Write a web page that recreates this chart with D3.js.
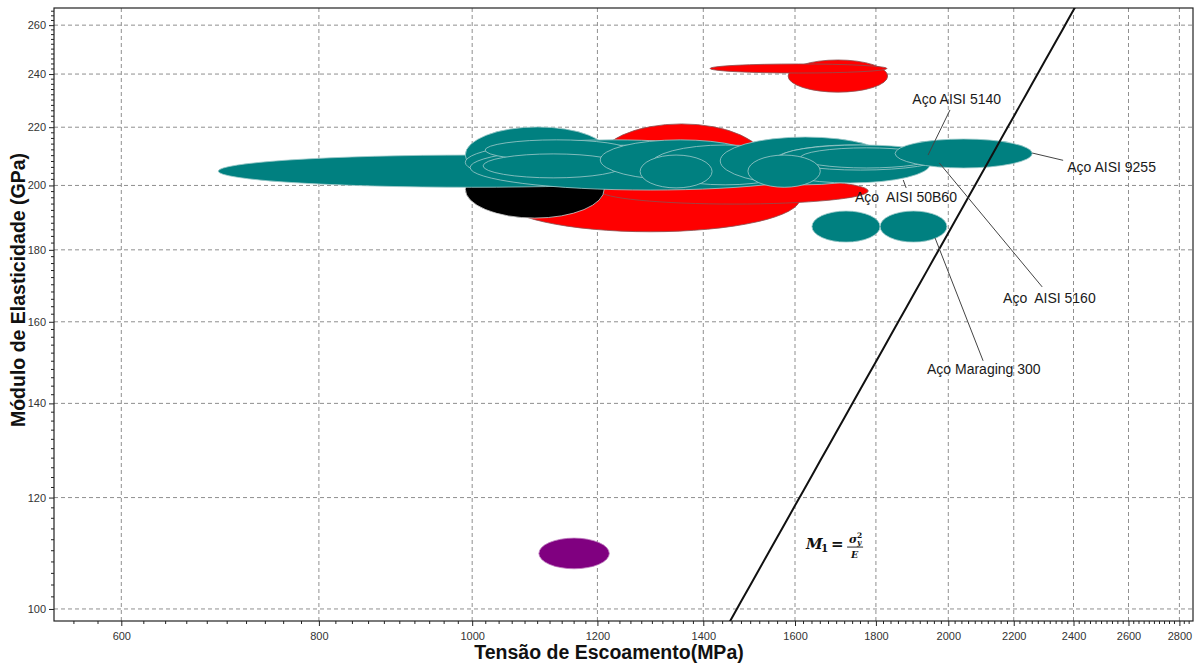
<!DOCTYPE html>
<html>
<head>
<meta charset="utf-8">
<script src="https://cdn.jsdelivr.net/npm/d3@7"></script>
<style>
  body { margin: 0; background: #fff; }
  svg { display: block; font-family: Arial, "Liberation Sans", sans-serif; }
</style>
</head>
<body>
<svg id="chart"></svg>
<script>
// Tick values on both log axes
const xMajorTicks = [600, 800, 1000, 1200, 1400, 1600, 1800, 2000, 2200, 2400, 2600, 2800];
const yMajorTicks = [100, 120, 140, 160, 180, 200, 220, 240, 260];

// Material ranges: [sigma min, sigma max, E min, E max] (MPa, GPa)
const redRanges = [
  [1042, 1612, 185.4, 206.8],
  [1201, 1532, 195.3, 221.2],
  [1205, 1780, 194.0, 202.5],
  [1584, 1831, 233.0, 245.6],
  [1414, 1829, 240.4, 244.0],
];
const blackRanges = [[990, 1212, 189.6, 208.4]];
const tealRanges = [
  [691, 1445, 199.4, 210.2],
  [990, 1222, 200.8, 220.1],
  [990, 1521, 200.2, 215.5],
  [997, 1684, 198.5, 213.7],
  [1019, 1255, 208.4, 215.5],
  [1016, 1246, 202.5, 210.6],
  [1205, 1521, 201.8, 215.5],
  [1296, 1612, 200.2, 213.7],
  [1435, 1838, 200.2, 216.5],
  [1543, 1948, 200.8, 213.7],
  [1565, 1979, 205.1, 213.7],
  [1612, 1956, 205.8, 212.7],
  [1851, 2260, 205.8, 215.8],
  [1277, 1418, 199.2, 210.2],
  [1494, 1660, 199.4, 210.2],
  [1640, 1811, 182.3, 191.8],
  [1811, 1996, 182.3, 191.8],
];
const purpleRanges = [[1102, 1221, 106.8, 112.3]];

// Callouts: label text, label anchor (sigma, E), leader from / to (sigma, E)
const calloutNames = ["Aço AISI 5140", "Aço AISI 9255", "Aço  AISI 50B60", "Aço  AISI 5160", "Aço Maraging 300"];
const calloutText = [[1898, 228.5], [2378, 204.5], [1746, 194.7], [2166, 165.0], [1939, 146.9]];
const calloutFrom = [[2005, 226.3], [2364, 208.4], [1881, 199.2], [2293, 169.4], [2104, 150.1]];
const calloutTo = [[1942, 210.2], [2260, 210.9], [1873, 201.8], [1974, 207.5], [1962, 183.5]];

// Index line M1 = sigma^2 / E  (E = sigma^2 / C)
const m1Constant = 21615;
const m1LabelAt = [1626, 110.3];

const WIDTH = 1198;
const HEIGHT = 664;
const plot = { left: 54, top: 8, right: 1193, bottom: 621 };

const svg = d3.select("#chart").attr("width", WIDTH).attr("height", HEIGHT);

var x = d3.scaleLog().domain([544, 2856]).range([plot.left, plot.right]);
var y = d3.scaleLog().domain([98.05, 267.4]).range([plot.bottom, plot.top]);

/**
 * Builds every minor tick between two bounds with a fixed step.
 */
function minorTicks(lo, hi, step, majors) {
  let out = [];
  for (let v = lo; v <= hi; v += step) {
    if (!majors.includes(v)) out.push(v);
  }
  return out;
}

/**
 * Draws the dashed grid, the frame and both axes.
 */
function drawAxes() {
  const grid = svg.append("g").attr("class", "grid");
  grid.selectAll("line.vx")
    .data(xMajorTicks)
    .enter()
    .append("line")
    .attr("x1", (d) => x(d)).attr("x2", (d) => x(d))
    .attr("y1", plot.top).attr("y2", plot.bottom)
    .attr("stroke", "#8f8f8f").attr("stroke-dasharray", "4,3");
  grid.selectAll("line.hy")
    .data(yMajorTicks)
    .enter()
    .append("line")
    .attr("y1", (d) => y(d)).attr("y2", (d) => y(d))
    .attr("x1", plot.left).attr("x2", plot.right)
    .attr("stroke", "#8f8f8f").attr("stroke-dasharray", "4,3");

  var xAxis = d3.axisBottom(x).tickValues(xMajorTicks).tickFormat(d3.format("d")).tickSize(5).tickPadding(6);
  var yAxis = d3.axisLeft(y).tickValues(yMajorTicks).tickFormat(d3.format("d")).tickSize(5).tickPadding(3);

  const gx = svg.append("g").attr("transform", `translate(0,${plot.bottom})`).call(xAxis);
  const gy = svg.append("g").attr("transform", `translate(${plot.left},0)`).call(yAxis);
  [gx, gy].forEach((g) => {
    g.select(".domain").remove();
    g.selectAll("text").attr("font-size", 11).attr("fill", "#333").attr("font-family", "Arial, 'Liberation Sans', sans-serif");
    g.selectAll("line").attr("stroke", "#222");
  });

  // minor ticks
  svg.append("g")
    .selectAll("line")
    .data(minorTicks(560, 2840, 20, xMajorTicks))
    .enter()
    .append("line")
    .attr("x1", (d) => x(d)).attr("x2", (d) => x(d))
    .attr("y1", plot.bottom).attr("y2", plot.bottom + 3)
    .attr("stroke", "#222");
  svg.append("g")
    .selectAll("line")
    .data(minorTicks(100, 266, 2, yMajorTicks))
    .enter()
    .append("line")
    .attr("y1", (d) => y(d)).attr("y2", (d) => y(d))
    .attr("x1", plot.left - 3).attr("x2", plot.left)
    .attr("stroke", "#222");

  svg.append("rect")
    .attr("x", plot.left).attr("y", plot.top)
    .attr("width", plot.right - plot.left).attr("height", plot.bottom - plot.top)
    .attr("fill", "none").attr("stroke", "#222").attr("stroke-width", 1.2);

  svg.append("text")
    .attr("x", 609).attr("y", 659)
    .attr("text-anchor", "middle")
    .attr("font-size", 19.5).attr("font-weight", "bold").attr("fill", "#111")
    .text("Tensão de Escoamento(MPa)");
  svg.append("text")
    .attr("transform", "translate(25,290) rotate(-90)")
    .attr("text-anchor", "middle")
    .attr("font-size", 19.5).attr("font-weight", "bold").attr("fill", "#111")
    .text("Módulo de Elasticidade (GPa)");
}

/**
 * Draws one family of material bubbles as ellipses in log-log space.
 */
function drawEllipses(ranges, fill, stroke, className) {
  svg.append("g")
    .attr("class", className)
    .selectAll("ellipse")
    .data(ranges)
    .enter()
    .append("ellipse")
    .attr("cx", (d) => (x(d[0]) + x(d[1])) / 2)
    .attr("cy", (d) => (y(d[2]) + y(d[3])) / 2)
    .attr("rx", (d) => (x(d[1]) - x(d[0])) / 2)
    .attr("ry", (d) => (y(d[2]) - y(d[3])) / 2)
    .attr("fill", fill)
    .attr("stroke", stroke)
    .attr("stroke-width", 0.8);
}

/**
 * Draws the M1 index line and its label.
 */
function drawIndexLine() {
  const sigmas = d3.range(1400, 2500, 20);
  const line = d3.line()
    .x((s) => x(s))
    .y((s) => y((s * s) / m1Constant));

  svg.append("clipPath").attr("id", "plotClip")
    .append("rect")
    .attr("x", plot.left).attr("y", plot.top)
    .attr("width", plot.right - plot.left).attr("height", plot.bottom - plot.top);

  svg.append("path")
    .datum(sigmas)
    .attr("clip-path", "url(#plotClip)")
    .attr("d", line)
    .attr("fill", "none")
    .attr("stroke", "#111")
    .attr("stroke-width", 2);

  const lx = x(m1LabelAt[0]);
  const ly = y(m1LabelAt[1]);
  const label = svg.append("g").attr("font-family", "'DejaVu Serif', 'Liberation Serif', serif").attr("font-weight", "bold").attr("font-style", "italic").attr("fill", "#111");
  label.append("text").attr("x", lx).attr("y", ly).attr("font-size", 15).text("M");
  label.append("text").attr("x", lx + 15).attr("y", ly + 3).attr("font-size", 10.5).attr("font-style", "normal").text("1");
  label.append("text").attr("x", lx + 25).attr("y", ly).attr("font-size", 15).attr("font-style", "normal").text("=");
  label.append("text").attr("x", lx + 43).attr("y", ly - 6).attr("font-size", 11).text("σ");
  label.append("text").attr("x", lx + 51).attr("y", ly - 11).attr("font-size", 7.5).attr("font-style", "normal").text("2");
  label.append("text").attr("x", lx + 51).attr("y", ly - 4).attr("font-size", 7.5).text("y");
  label.append("line").attr("x1", lx + 41).attr("x2", lx + 57).attr("y1", ly - 2).attr("y2", ly - 2).attr("stroke", "#111").attr("stroke-width", 0.9);
  label.append("text").attr("x", lx + 45).attr("y", ly + 9).attr("font-size", 9.5).text("E");
}

/**
 * Draws the leader lines and the steel names.
 */
function drawCallouts() {
  const g = svg.append("g").attr("class", "callouts");
  g.selectAll("line")
    .data(calloutNames)
    .enter()
    .append("line")
    .attr("x1", (d, i) => x(calloutFrom[i][0]))
    .attr("y1", (d, i) => y(calloutFrom[i][1]))
    .attr("x2", (d, i) => x(calloutTo[i][0]))
    .attr("y2", (d, i) => y(calloutTo[i][1]))
    .attr("stroke", "#444")
    .attr("stroke-width", 1);
  g.selectAll("text")
    .data(calloutNames)
    .enter()
    .append("text")
    .attr("x", (d, i) => x(calloutText[i][0]))
    .attr("y", (d, i) => y(calloutText[i][1]))
    .attr("font-size", 14)
    .attr("fill", "#1a1a1a")
    .attr("xml:space", "preserve")
    .style("white-space", "pre")
    .text((d) => d);
}

drawAxes();
drawEllipses(redRanges, "#ff0000", "#8a5050", "red");
drawEllipses(blackRanges, "#000000", "#cfcfcf", "black");
drawEllipses(tealRanges, "#008080", "#9fcaca", "teal");
drawEllipses(purpleRanges, "#800080", "#c080c0", "purple");
drawIndexLine();
drawCallouts();
</script>
</body>
</html>
